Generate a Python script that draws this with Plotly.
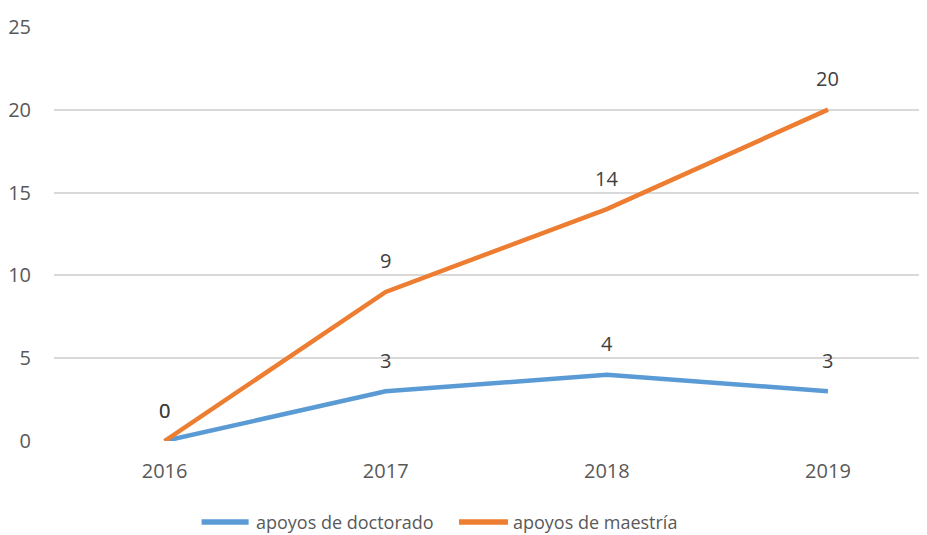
import plotly.graph_objects as go

# data
years = ["2016", "2017", "2018", "2019"]
doctorado = [0, 3, 4, 3]
maestria = [0, 9, 14, 20]
names = ["apoyos de doctorado", "apoyos de maestría"]

blue = "#5B9BD5"
orange = "#ED7D31"
font_family = "Open Sans, Liberation Sans, sans-serif"

fig = go.Figure()
for series, name, color in zip((doctorado, maestria), names, (blue, orange)):
    fig.add_trace(go.Scatter(x=years, y=series, mode="lines", name=name,
                             line=dict(color=color, width=4.5), showlegend=False))

# data labels above each point (x as category index)
for series in (doctorado, maestria):
    for i, v in enumerate(series):
        fig.add_annotation(x=i, y=v, text=str(v), showarrow=False, yshift=31,
                           font=dict(size=20, color="#404040", family=font_family))

# hand-drawn legend below the plot, longer line samples like the original
legend_pos = [(0.1675, 0.2209, 0.2266), (0.4597, 0.5153, 0.5187)]
for (x0, x1, xt), name, color in zip(legend_pos, names, (blue, orange)):
    fig.add_shape(type="line", xref="paper", yref="paper", x0=x0, x1=x1, y0=-0.195, y1=-0.195,
                  line=dict(color=color, width=5.5))
    fig.add_annotation(xref="paper", yref="paper", x=xt, y=-0.195, text=name, showarrow=False,
                       xanchor="left", yanchor="middle",
                       font=dict(size=18, color="#595959", family=font_family))

fig.update_layout(
    width=927, height=535,
    margin=dict(l=46, r=0, t=18, b=102),
    plot_bgcolor="white", paper_bgcolor="white",
    font=dict(family=font_family, size=20, color="#595959"),
    showlegend=False,
)
fig.update_xaxes(range=[-0.5, 3.484], showgrid=False, showline=False, zeroline=False,
                 ticks="", ticklabelstandoff=16, automargin=False)
fig.update_yaxes(range=[0, 25.05], tickvals=[0, 5, 10, 15, 20, 25], showgrid=True,
                 gridcolor="#D9D9D9", gridwidth=1.5, zeroline=False, showline=False,
                 ticks="", ticklabelstandoff=22, automargin=False)

fig.write_html("out.html")
